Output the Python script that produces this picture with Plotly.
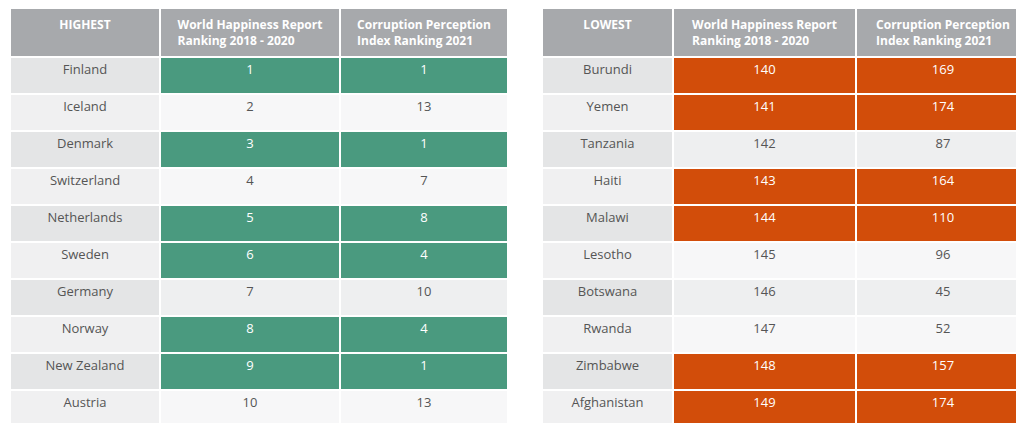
import plotly.graph_objects as go

top_countries = ["Finland", "Iceland", "Denmark", "Switzerland", "Netherlands",
                 "Sweden", "Germany", "Norway", "New Zealand", "Austria"]
top_happy = [1, 2, 3, 4, 5, 6, 7, 8, 9, 10]
top_cpi = [1, 13, 1, 7, 8, 4, 10, 4, 1, 13]
top_flag = [1, 0, 1, 0, 1, 1, 0, 1, 1, 0]

low_countries = ["Burundi", "Yemen", "Tanzania", "Haiti", "Malawi",
                 "Lesotho", "Botswana", "Rwanda", "Zimbabwe", "Afghanistan"]
low_happy = [140, 141, 142, 143, 144, 145, 146, 147, 148, 149]
low_cpi = [169, 174, 87, 164, 110, 96, 45, 52, 157, 174]
low_flag = [1, 1, 0, 1, 1, 0, 0, 0, 1, 1]

HEADER = "#a7a9ac"
GREEN = "#4a9a7f"
ORANGE = "#d24d0a"
DARK_ROW = ["#e4e5e6", "#f0f0f1"]
LIGHT_ROW = ["#eeeff0", "#f7f7f8"]


def make_table(title, countries, happy, cpi, flags, hl, domain, widths):
    n = len(countries)
    first_fill = [DARK_ROW[i % 2] for i in range(n)]
    other_fill = [hl if flags[i] else LIGHT_ROW[i % 2] for i in range(n)]
    font_col = ["white" if f else "#555555" for f in flags]
    return go.Table(
        domain=dict(x=domain, y=[0, 1]),
        columnwidth=widths,
        header=dict(
            values=[f"<b>{title}</b>", "<b>World Happiness Report<br>Ranking 2018 - 2020</b>",
                    "<b>Corruption Perception<br>Index Ranking 2021</b>"],
            fill_color=HEADER, line=dict(color="white", width=2),
            font=dict(color="white", size=12, family="Open Sans"),
            align="center", height=36),
        cells=dict(
            values=[countries, happy, cpi],
            fill_color=[first_fill, other_fill, other_fill],
            line=dict(color="white", width=2),
            font=dict(color=[["#555555"] * n, font_col, font_col], size=13, family="Open Sans"),
            align="center", height=37),
    )


fig = go.Figure()
fig.add_trace(make_table("HIGHEST", top_countries, top_happy, top_cpi, top_flag, GREEN,
                         [2 / 1024, 500 / 1024], [150, 180, 168]))
fig.add_trace(make_table("LOWEST", low_countries, low_happy, low_cpi, low_flag, ORANGE,
                         [534 / 1024, 1022 / 1024], [131, 183, 174]))
fig.update_layout(width=1024, height=423, margin=dict(l=0, r=0, t=0, b=0),
                  paper_bgcolor="white")
fig.write_html("out.html")
